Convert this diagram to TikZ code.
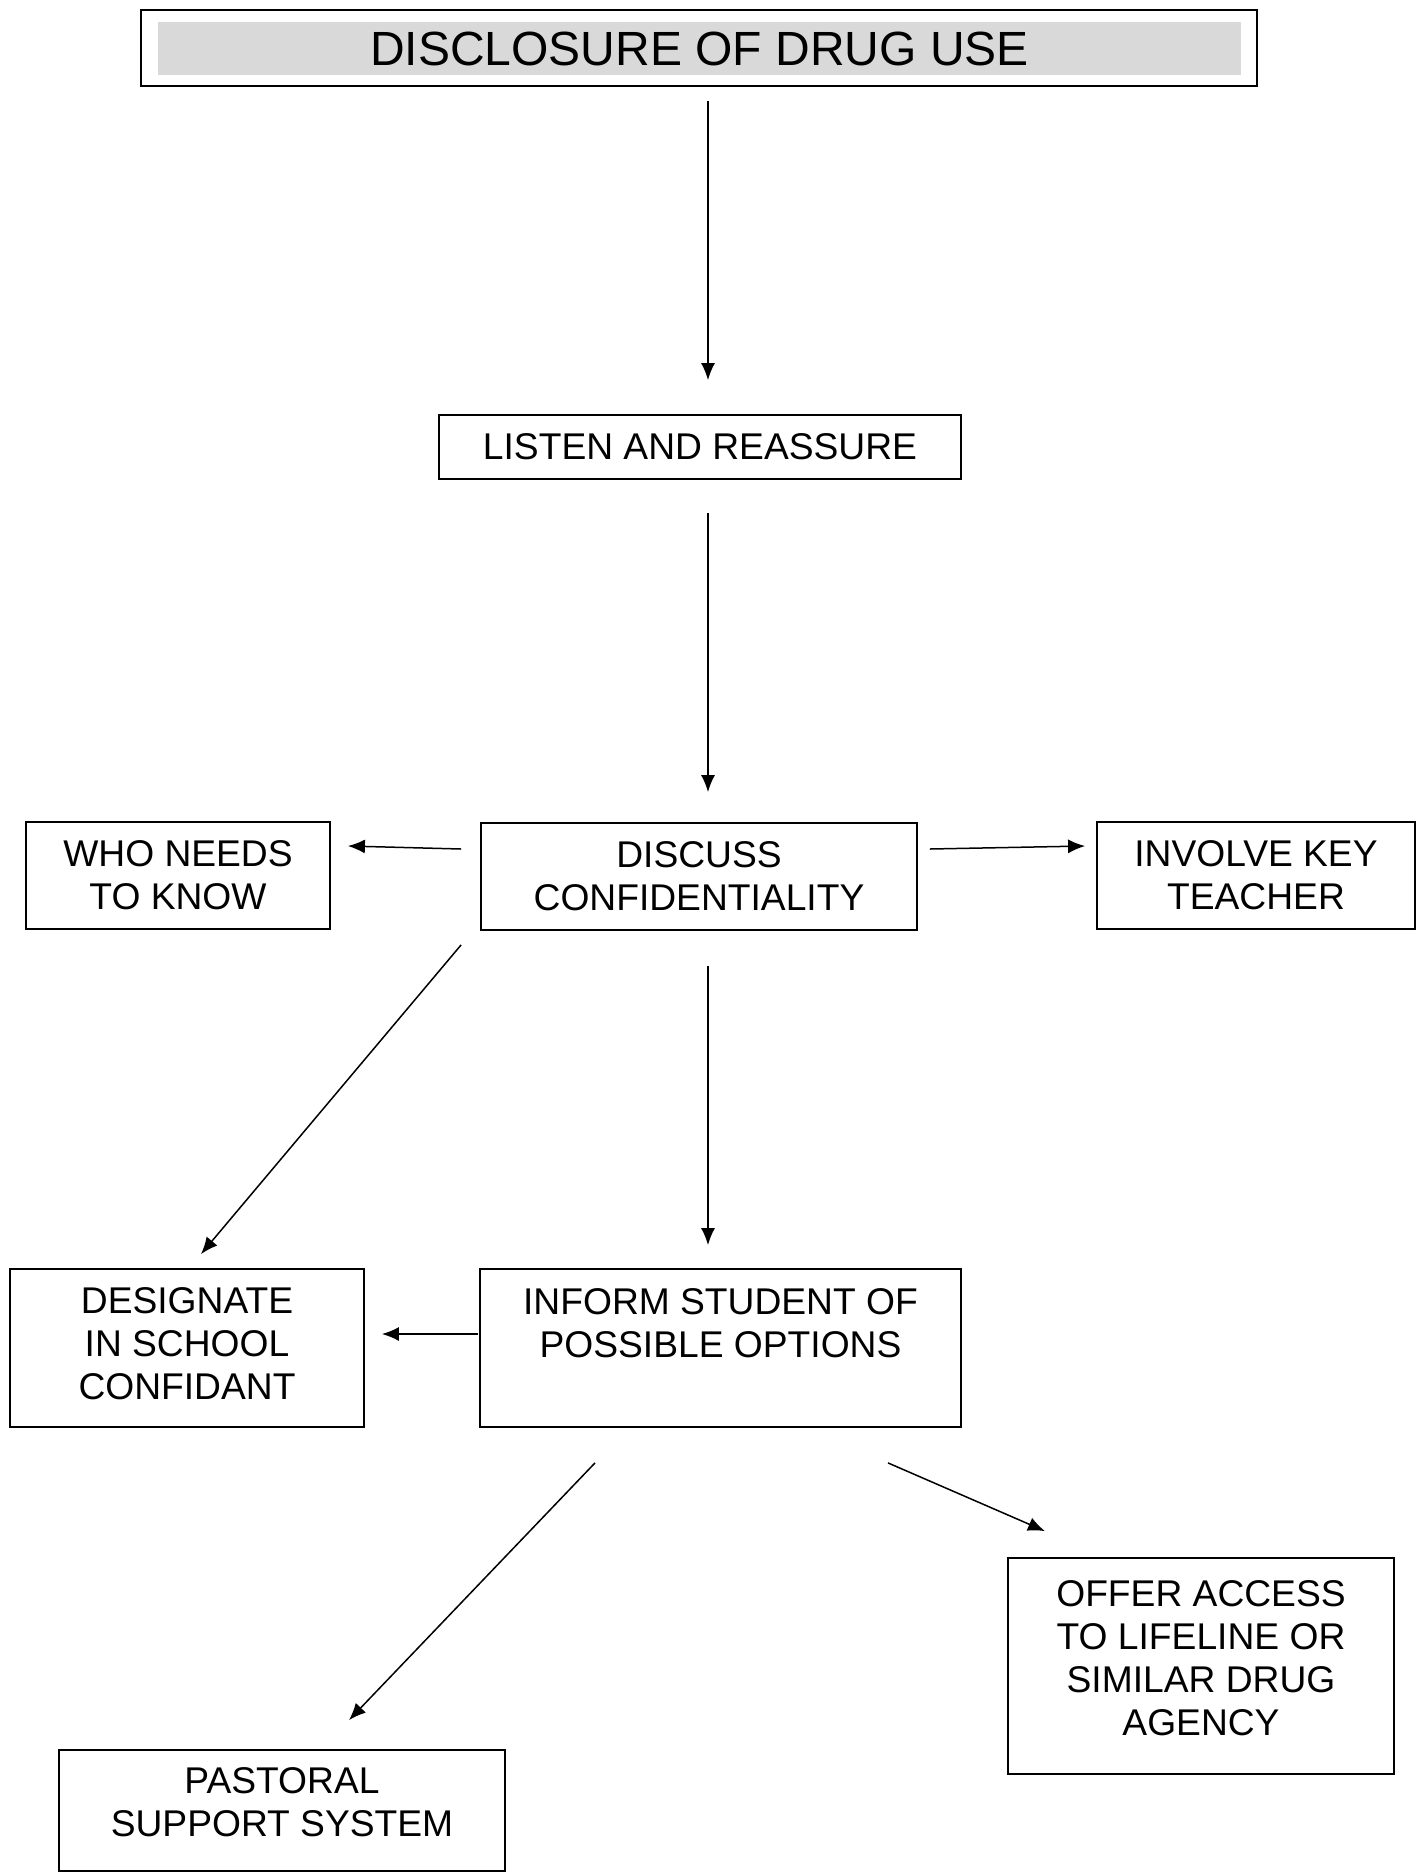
\documentclass[tikz,border=0pt]{standalone}
\usepackage{fontspec}
\setmainfont{Liberation Sans}
\usetikzlibrary{arrows.meta}
\definecolor{titlegray}{RGB}{217,217,217}
\begin{document}
\begin{tikzpicture}[x=0.5pt,y=-0.5pt,
  box/.style={draw=black,line width=0.9pt,inner sep=0pt,align=center,
    font=\fontsize{18.6pt}{21.5pt}\selectfont},
  conn/.style={line width=0.75pt,-{Latex[length=8.5pt,width=7pt]}}]
\useasboundingbox (0,0) rectangle (1423,1876);
% title
\node[draw=black,line width=1.3pt,minimum width=558pt,minimum height=38pt,inner sep=0pt] (title) at (699,48) {};
\node[fill=titlegray,minimum width=541.5pt,minimum height=26.5pt,inner sep=0pt,
  font=\fontsize{24pt}{28pt}\selectfont] (titletext) at (699.5,48.5) {DISCLOSURE OF DRUG USE};
% boxes
\node[box,minimum width=261pt,minimum height=32pt] (listen) at (700,447) {LISTEN AND REASSURE};
\node[box,minimum width=218pt,minimum height=53.5pt] (discuss) at (699,876.5) {DISCUSS\\CONFIDENTIALITY};
\node[box,minimum width=152pt,minimum height=53.5pt] (who) at (178,875.5) {WHO NEEDS\\TO KNOW};
\node[box,minimum width=159pt,minimum height=53.5pt] (involve) at (1256,875.5) {INVOLVE KEY\\TEACHER};
\node[box,minimum width=177pt,minimum height=79pt] (designate) at (187,1348) {DESIGNATE\\IN SCHOOL\\CONFIDANT\\[-17pt]\mbox{}};
\node[box,minimum width=240.5pt,minimum height=79pt] (inform) at (720.5,1348) {INFORM STUDENT OF\\POSSIBLE OPTIONS\\[4pt]\mbox{}};
\node[box,minimum width=193pt,minimum height=108pt] (offer) at (1201,1666) {OFFER ACCESS\\TO LIFELINE OR\\SIMILAR DRUG\\AGENCY\\[-13pt]\mbox{}};
\node[box,minimum width=223pt,minimum height=60.5pt] (pastoral) at (282,1810.5) {PASTORAL\\SUPPORT SYSTEM\\[-13pt]\mbox{}};
% connectors
\draw[conn] ([xshift=4.5pt,yshift=-7pt]title.south) -- ([xshift=4pt,yshift=17pt]listen.north);
\draw[conn] ([xshift=4pt,yshift=-16.5pt]listen.south) -- ([xshift=4.5pt,yshift=15pt]discuss.north);
\draw[conn] ([xshift=-9.5pt,yshift=13.75pt]discuss.west) -- ([xshift=8.5pt,yshift=14.75pt]who.east);
\draw[conn] ([xshift=6pt,yshift=13.75pt]discuss.east) -- ([xshift=-5.5pt,yshift=14.75pt]involve.west);
\draw[conn] ([xshift=-9.5pt,yshift=-7pt]discuss.south west) -- ([xshift=7pt,yshift=7pt]designate.north);
\draw[conn] ([xshift=4.5pt,yshift=-17.5pt]discuss.south) -- ([xshift=-6.25pt,yshift=11.5pt]inform.north);
\draw[conn] ([xshift=-0.5pt,yshift=7pt]inform.west) -- ([xshift=8.5pt,yshift=7pt]designate.east);
\draw[conn] ([xshift=-62.75pt,yshift=-17.5pt]inform.south) -- ([xshift=33.5pt,yshift=14.5pt]pastoral.north);
\draw[conn] ([xshift=83.75pt,yshift=-17.5pt]inform.south) -- ([xshift=-78pt,yshift=13pt]offer.north);
\end{tikzpicture}
\end{document}
